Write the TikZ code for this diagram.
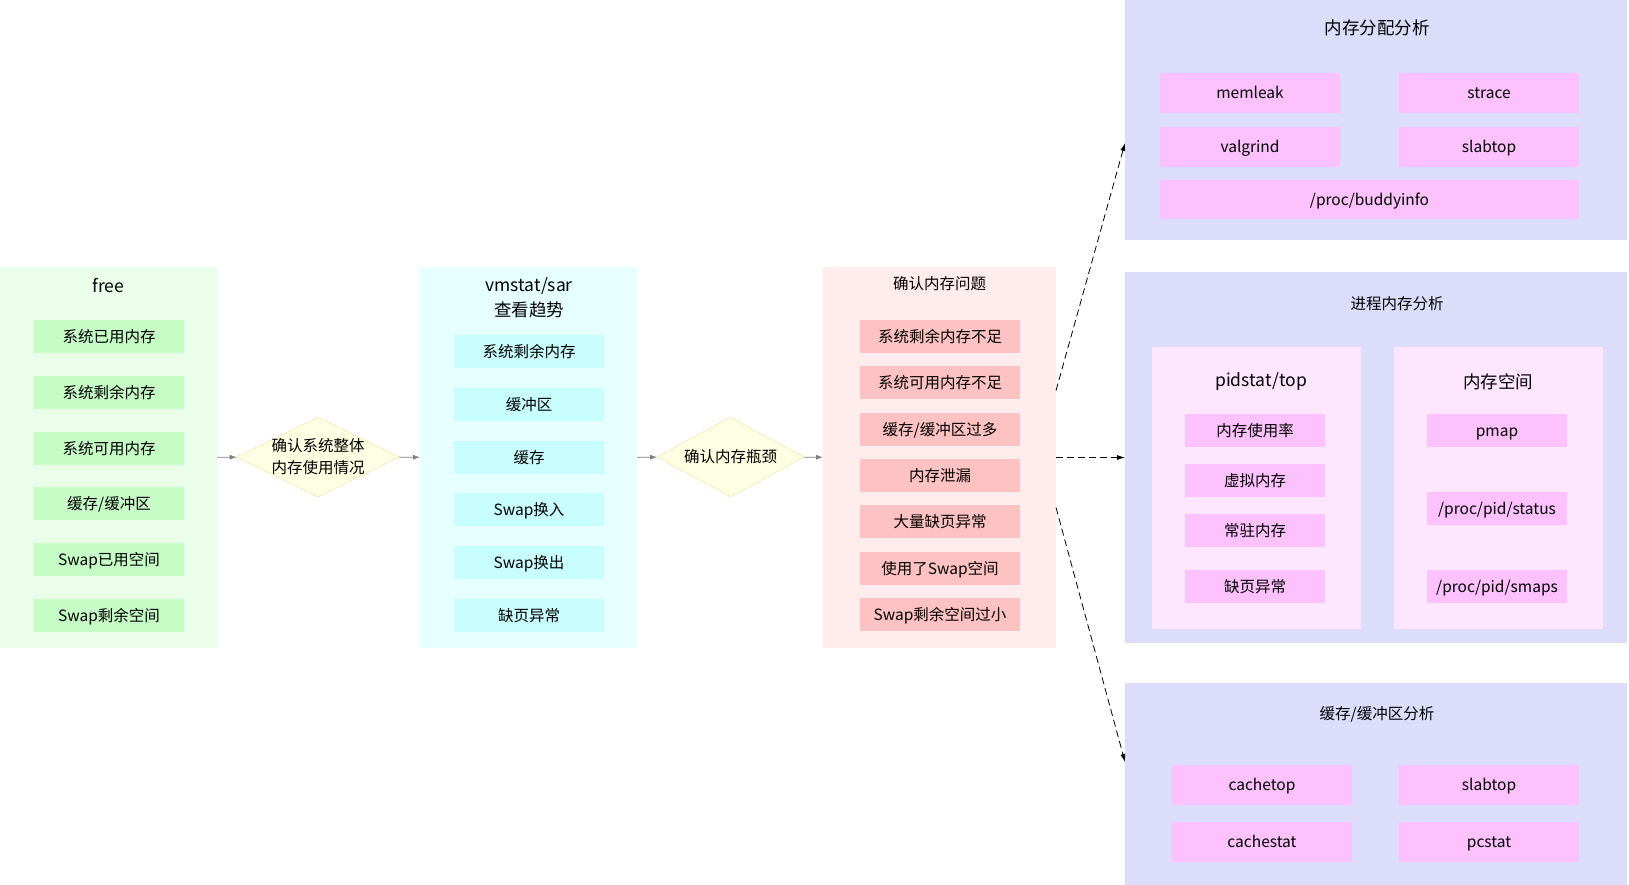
\documentclass[tikz,border=0pt]{standalone}
\usepackage{fontspec}
\setmainfont{Noto Sans CJK SC}
\usepackage{xcolor}
\usetikzlibrary{shapes.geometric, arrows.meta, positioning}

\definecolor{freebg}{HTML}{EAFEEA}
\definecolor{freeitem}{HTML}{C6FCC6}
\definecolor{vmbg}{HTML}{E6FFFF}
\definecolor{vmitem}{HTML}{C8FEFE}
\definecolor{chkbg}{HTML}{FFECEC}
\definecolor{chkitem}{HTML}{FFC2C2}
\definecolor{toolbg}{HTML}{DCDCFB}
\definecolor{toolitem}{HTML}{FDC1FD}
\definecolor{subbg}{HTML}{FEE6FE}
\definecolor{decfill}{HTML}{FFFFE3}
\definecolor{decline}{HTML}{F0DF9C}

\newcommand{\itemfont}{\fontsize{15.5}{19}\selectfont}
\newcommand{\headfont}{\fontsize{17.5}{25}\selectfont}
\newcommand{\decfont}{\fontsize{15.5}{22}\selectfont}

\tikzset{
	panel/.style={rectangle, inner sep=0pt, outer sep=0pt},
	item/.style={rectangle, inner sep=0pt, outer sep=0pt, minimum height=33pt, text height=13.5pt, text depth=2pt, font=\itemfont},
	tool/.style={item, minimum width=180pt, minimum height=40pt, fill=toolitem},
	head/.style={inner sep=0pt, align=center, font=\headfont},
	smallhead/.style={inner sep=0pt, align=center, font=\itemfont},
	decision/.style={diamond, draw=decline, fill=decfill, inner sep=0pt, minimum height=80pt},
	flow/.style={draw=gray, line width=0.8pt, -{Latex[length=7pt,width=5pt]}},
	jump/.style={draw=black, line width=0.8pt, dash pattern=on 7pt off 4pt, -{Latex[length=8pt,width=5pt]}}
}

\begin{document}
\begin{tikzpicture}[x=1pt, y=-1pt]
	\useasboundingbox (0,0) rectangle (1629,885);

	% free
	\draw (108.5,457.5) node[panel, fill=freebg, minimum width=217pt, minimum height=381pt] (free) {}
		(108.5,286) node[head] (freet) {free}
		(109,336.5) node[item, fill=freeitem, minimum width=150pt] (f1) {系统已用内存}
		(109,392.5) node[item, fill=freeitem, minimum width=150pt] (f2) {系统剩余内存}
		(109,448.5) node[item, fill=freeitem, minimum width=150pt] (f3) {系统可用内存}
		(109,503.5) node[item, fill=freeitem, minimum width=150pt] (f4) {缓存/缓冲区}
		(109,559.5) node[item, fill=freeitem, minimum width=150pt] (f5) {Swap已用空间}
		(109,615.5) node[item, fill=freeitem, minimum width=150pt] (f6) {Swap剩余空间};

	\node[decision, minimum width=163pt, label={[align=center, font=\decfont, inner sep=0pt]center:确认系统整体\\内存使用情况}] (d1) at (318,457) {};

	% vmstat/sar
	\draw (528.5,457.5) node[panel, fill=vmbg, minimum width=217pt, minimum height=381pt] (vm) {}
		(529,297.5) node[head] (vmt) {vmstat/sar\\查看趋势}
		(529,351.5) node[item, fill=vmitem, minimum width=150pt] (v1) {系统剩余内存}
		(529,404.5) node[item, fill=vmitem, minimum width=150pt] (v2) {缓冲区}
		(529,457.5) node[item, fill=vmitem, minimum width=150pt] (v3) {缓存}
		(529,509.5) node[item, fill=vmitem, minimum width=150pt] (v4) {Swap换入}
		(529,562.5) node[item, fill=vmitem, minimum width=150pt] (v5) {Swap换出}
		(529,615.5) node[item, fill=vmitem, minimum width=150pt] (v6) {缺页异常};

	\node[decision, minimum width=147pt, label={[font=\decfont, inner sep=0pt]center:确认内存瓶颈}] (d2) at (730.5,457) {};

	% check
	\draw (939.5,457.5) node[panel, fill=chkbg, minimum width=233pt, minimum height=381pt] (check) {}
		(939.5,284) node[smallhead] (checkt) {确认内存问题}
		(940,336.5) node[item, fill=chkitem, minimum width=160pt] (c1) {系统剩余内存不足}
		(940,382.5) node[item, fill=chkitem, minimum width=160pt] (c2) {系统可用内存不足}
		(940,429.5) node[item, fill=chkitem, minimum width=160pt] (c3) {缓存/缓冲区过多}
		(940,475.5) node[item, fill=chkitem, minimum width=160pt] (c4) {内存泄漏}
		(940,521.5) node[item, fill=chkitem, minimum width=160pt] (c5) {大量缺页异常}
		(940,568.5) node[item, fill=chkitem, minimum width=160pt] (c6) {使用了Swap空间}
		(940,614.5) node[item, fill=chkitem, minimum width=160pt] (c7) {Swap剩余空间过小};

	% alloc
	\draw (1376,120) node[panel, fill=toolbg, minimum width=502pt, minimum height=240pt] (alloc) {}
		(1377,28) node[head] (alloct) {内存分配分析}
		(1250,93) node[tool] (a1) {memleak}
		(1489,93) node[tool] (a2) {strace}
		(1250,147) node[tool] (a3) {valgrind}
		(1489,147) node[tool] (a4) {slabtop}
		(1369.5,199.5) node[tool, minimum width=419pt, minimum height=39pt] (a5) {/proc/buddyinfo};

	% process
	\draw (1376,457.5) node[panel, fill=toolbg, minimum width=502pt, minimum height=371pt] (proc) {}
		(1397,304) node[smallhead] (proct) {进程内存分析}
		(1256.5,488) node[panel, fill=subbg, minimum width=209pt, minimum height=282pt] (pid) {}
		(1498.5,488) node[panel, fill=subbg, minimum width=209pt, minimum height=282pt] (space) {}
		(1261,382) node[head] (pidt) {pidstat/top}
		(1498,382) node[head] (spacet) {内存空间}
		(1255,430.5) node[item, fill=toolitem, minimum width=140pt] (p1) {内存使用率}
		(1255,480.5) node[item, fill=toolitem, minimum width=140pt] (p2) {虚拟内存}
		(1255,530.5) node[item, fill=toolitem, minimum width=140pt] (p3) {常驻内存}
		(1255,586.5) node[item, fill=toolitem, minimum width=140pt] (p4) {缺页异常}
		(1497,430.5) node[item, fill=toolitem, minimum width=140pt] (s1) {pmap}
		(1497,508.5) node[item, fill=toolitem, minimum width=140pt] (s2) {/proc/pid/status}
		(1497,586.5) node[item, fill=toolitem, minimum width=140pt] (s3) {/proc/pid/smaps};

	% cache
	\draw (1376,784) node[panel, fill=toolbg, minimum width=502pt, minimum height=202pt] (cache) {}
		(1377,714) node[smallhead] (cachet) {缓存/缓冲区分析}
		(1262,785) node[tool] (k1) {cachetop}
		(1489,785) node[tool] (k2) {slabtop}
		(1262,842) node[tool] (k3) {cachestat}
		(1489,842) node[tool] (k4) {pcstat};

	\draw[flow] (free) -- (d1);
	\draw[flow] (d1) -- (vm);
	\draw[flow] (vm) -- (d2);
	\draw[flow] (d2) -- (check);

	\draw[jump] ([yshift=67pt]check.east) -- ([yshift=-23pt]alloc.west);
	\draw[jump] (check.east) -- (proc.west);
	\draw[jump] ([yshift=-50pt]check.east) -- ([yshift=22pt]cache.west);
\end{tikzpicture}
\end{document}
